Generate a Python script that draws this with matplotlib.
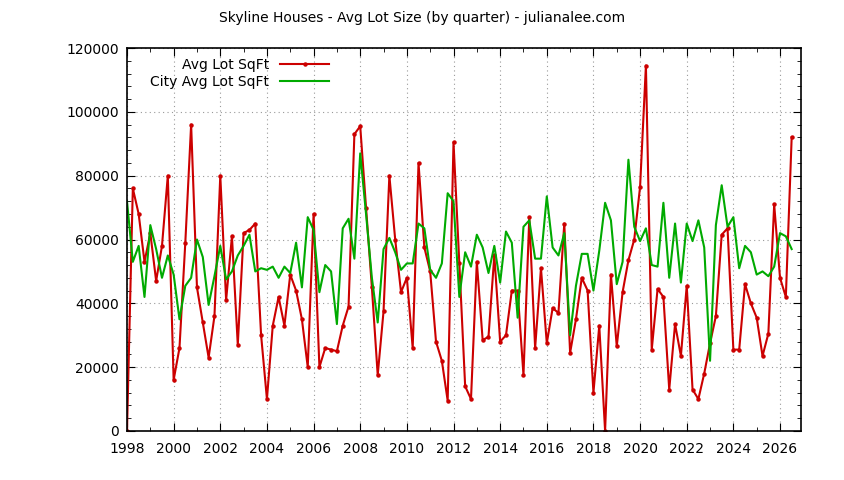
import numpy as np
import matplotlib.pyplot as plt
from matplotlib.ticker import MultipleLocator

# quarterly values, thousands of sq ft, 1998 Q1 .. 2026 Q3
avg_lot = [0, 76, 68, 53, 62, 47, 58, 80, 16, 26, 59, 96, 45, 34, 23, 36,
           80, 41, 61, 27, 62, 63, 65, 30, 10, 33, 42, 33, 49, 44, 35, 20,
           68, 20, 26, 25.5, 25, 33, 39, 93, 95.5, 70, 45, 17.5, 37.5, 80, 60, 43.5,
           48, 26, 84, 57.5, 50, 28, 22, 9.5, 90.5, 52.5, 14, 10, 53, 28.5, 29.5, 55,
           28, 30, 44, 44, 17.5, 67, 26, 51, 27.5, 38.5, 37, 65, 24.5, 35, 48, 44,
           12, 33, 0, 49, 26.5, 43.5, 53.5, 60, 76.5, 114.5, 25.5, 44.5, 42, 13, 33.5, 23.5,
           45.5, 13, 10, 18, 27.5, 36, 61.5, 63.5, 25.5, 25.5, 46, 40, 35.5, 23.5, 30.5, 71,
           48, 42, 92]
city_lot = [72, 53, 58, 42, 64.5, 57, 48, 55, 49, 35, 45.5, 48, 60, 54.5, 39.5, 48.5,
            58, 47.5, 50, 55, 58, 61.5, 50, 51, 50.5, 51.5, 48, 51.5, 49.5, 59, 45, 67,
            63, 43.5, 52, 50, 33.5, 63.5, 66.5, 54, 87, 68, 48, 34, 57, 60.5, 56, 50.5,
            52.5, 52.5, 65, 63.5, 50.5, 48, 52.5, 74.5, 72, 42, 56, 51.5, 61.5, 57.5, 49.5, 58,
            46.5, 62.5, 59, 35.5, 64, 66, 54, 54, 73.5, 57.5, 55, 62, 30, 45.5, 55.5, 55.5,
            44, 56.5, 71.5, 66, 46, 53, 85, 64, 59.5, 63.5, 52, 51.5, 71.5, 48, 65, 46.5,
            65, 59.5, 66, 57.5, 22, 64.5, 77, 64, 67, 51, 58, 56, 49, 50, 48.5, 51.5,
            62, 61, 57]

t = 1998 + np.arange(len(avg_lot)) * 0.25
avg = np.array(avg_lot) * 1000
city = np.array(city_lot) * 1000

fig = plt.figure(figsize=(8.44, 4.8), dpi=100)
ax = fig.add_axes([127 / 844, 1 - 431 / 480, 674 / 844, 383 / 480])

ax.plot(t, avg, color="#cc0000", lw=1.5, marker="o", ms=2.2, label="Avg Lot SqFt")
ax.plot(t, city, color="#00aa00", lw=1.5, label="City Avg Lot SqFt")

ax.set_xlim(1998, 2026.9)
ax.set_ylim(0, 120000)
ax.xaxis.set_major_locator(MultipleLocator(2))
ax.xaxis.set_minor_locator(MultipleLocator(1))
ax.yaxis.set_major_locator(MultipleLocator(20000))
ax.yaxis.set_minor_locator(MultipleLocator(4000))
ax.tick_params(which="both", direction="in", top=True, right=True, labelsize=10)
ax.tick_params(which="major", length=6)
ax.tick_params(which="minor", length=3)
ax.tick_params(axis="x", pad=8)
ax.tick_params(axis="y", pad=6)
ax.grid(True, which="major", color="#999999", ls=(0, (1, 3)), lw=0.8)
for s in ax.spines.values():
    s.set_linewidth(1.2)

ax.legend(loc="upper left", bbox_to_anchor=(0.02, 1.0), frameon=False,
          markerfirst=False, fontsize=10, handlelength=3.5, borderaxespad=0.3,
          labelspacing=0.2)
fig.text(0.5, 1 - 18 / 480, "Skyline Houses - Avg Lot Size (by quarter) - julianalee.com",
         ha="center", va="center", fontsize=10)

fig.savefig("out.png", dpi=100)
